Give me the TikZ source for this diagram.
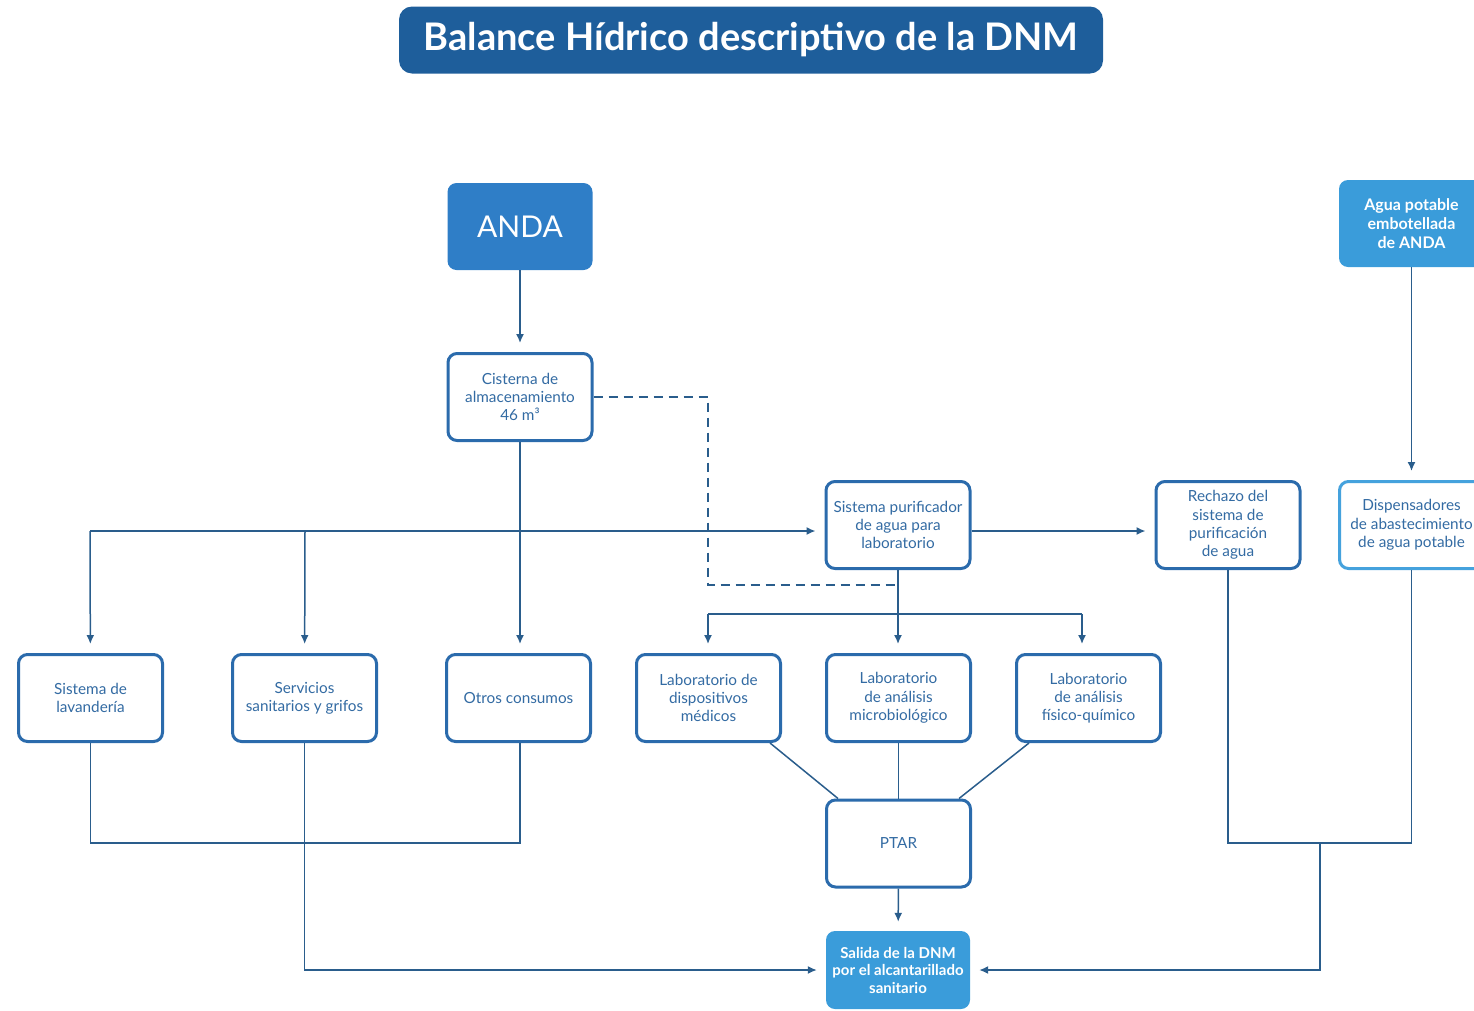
\documentclass[tikz,border=0pt]{standalone}
\usepackage{fontspec}
\setmainfont{Lato}
\usetikzlibrary{positioning}
\usetikzlibrary{arrows.meta}
\definecolor{titleblue}{HTML}{1E5E9B}
\definecolor{andablue}{HTML}{2F7EC7}
\definecolor{lightblue}{HTML}{3A9CDA}
\definecolor{boxblue}{HTML}{2B6BAC}
\definecolor{paleblue}{HTML}{45A2DD}
\definecolor{lineblue}{HTML}{2A5D8C}
\definecolor{textblue}{HTML}{336BA3}
\tikzstyle{box}=[draw=boxblue,line width=3pt,rounded corners=9pt,fill=white,minimum width=144pt,minimum height=87pt,inner sep=0pt,align=center,text=textblue,font=\fontsize{15.3}{18.3}\selectfont]
\tikzstyle{solidbox}=[fill=andablue,rounded corners=9pt,minimum width=145pt,minimum height=87pt,inner sep=0pt,align=center,text=white]
\tikzstyle{edge} = [draw,line width=1.5pt,lineblue,-{Latex[length=9pt,width=8pt]},shorten >=9pt]
\tikzstyle{undirectededge} = [draw,line width=1.5pt,lineblue]
\tikzstyle{dashline} = [draw,line width=1.5pt,lineblue,dash pattern=on 9pt off 6pt]

\begin{document}
\begin{tikzpicture}[x=1pt,y=-1pt]
  \useasboundingbox (0,0) rectangle (1474,1010);

  % title and sources
  \node[solidbox,fill=titleblue,minimum width=704pt,minimum height=67pt,rounded corners=13pt,font=\fontsize{38}{40}\selectfont\bfseries] (title) at (751,40) {Balance Hídrico descriptivo de la DNM};
  \node[solidbox,font=\fontsize{30}{32}\selectfont] (anda) at (520,226.5) {ANDA};
  \node[solidbox,fill=lightblue,font=\fontsize{16}{19}\selectfont\bfseries] (agua) at (1411.5,223.5) {Agua potable\\embotellada\\de ANDA};

  % white boxes
  \foreach \pos/\name/\label in {{(520,397)/cis/{Cisterna de\\almacenamiento\\46 m³}}, {(898,525)/purif/{Sistema purificador\\de agua para\\laboratorio}}, {(1228,525)/rech/{Rechazo del\\sistema de\\purificación\\de agua}}, {(90.5,698)/lav/{Sistema de\\lavandería}}, {(304.5,698)/serv/{Servicios\\sanitarios y grifos}}, {(518.5,698)/otros/{Otros consumos}}, {(708.5,698)/ldisp/{Laboratorio de\\dispositivos\\médicos}}, {(898.5,698)/lmicro/{Laboratorio\\de análisis\\microbiológico}}, {(1088.5,698)/lfis/{Laboratorio\\de análisis\\físico-químico}}, {(898.5,843.5)/ptar/{PTAR}}}
    \node[box] (\name) at \pos {\label};
  \node[box,draw=paleblue] (disp) at (1411.5,525) {Dispensadores\\de abastecimiento\\de agua potable};

  \node[solidbox,fill=lightblue,minimum width=144pt,minimum height=78pt,font=\fontsize{15}{17.5}\selectfont\bfseries] (salida) at (898,970) {Salida de la DNM\\por el alcantarillado\\sanitario};

  % junctions
  \coordinate (splitL) at (90,531);
  \coordinate (splitS) at (305,531);
  \coordinate (dashc) at (708,585);
  \coordinate (labsplit) at (898,614);
  \coordinate (labL) at (708,614);
  \coordinate (labR) at (1082,614);
  \coordinate (mergeL) at (520,843);
  \coordinate (mergeR) at (1320,843);

  % connectors
  \path[edge] (anda) -- (cis);
  \path[edge] (cis) -- (cis |- otros.north);
  \path[edge] (splitL) -- (splitL -| purif.west);
  \path[edge] (splitL) -- (lav);
  \path[edge] (splitS) -- (serv);
  \path[edge] ([yshift=-6pt]purif.east) -- ([yshift=-6pt]rech.west);
  \path[edge] (agua) -- (disp);
  \path[dashline] (cis.east) -| (dashc) -- (dashc -| purif.south);
  \path[undirectededge] (purif.south) -- (labsplit);
  \path[undirectededge] (labL) -- (labR);
  \foreach \source/ \dest in {labL/ldisp, labsplit/lmicro, labR/lfis}
    \path[edge] (\source) -- (\source |- \dest.north);

  \path[undirectededge] ([xshift=-12pt]ldisp.south east) -- ([xshift=13pt]ptar.north west);
  \path[undirectededge] (lmicro) -- (ptar);
  \path[undirectededge] ([xshift=14pt]lfis.south west) -- ([xshift=-13pt]ptar.north east);
  \path[edge] (ptar) -- (salida);

  \path[undirectededge] (lav.south) |- (mergeL) -- (mergeL |- otros.south);
  \path[edge] (serv.south) |- (salida.west);
  \path[undirectededge] (rech.south) |- (disp.south |- mergeR) -- (disp.south);
  \path[edge] (mergeR) |- (salida.east);

\end{tikzpicture}
\end{document}
